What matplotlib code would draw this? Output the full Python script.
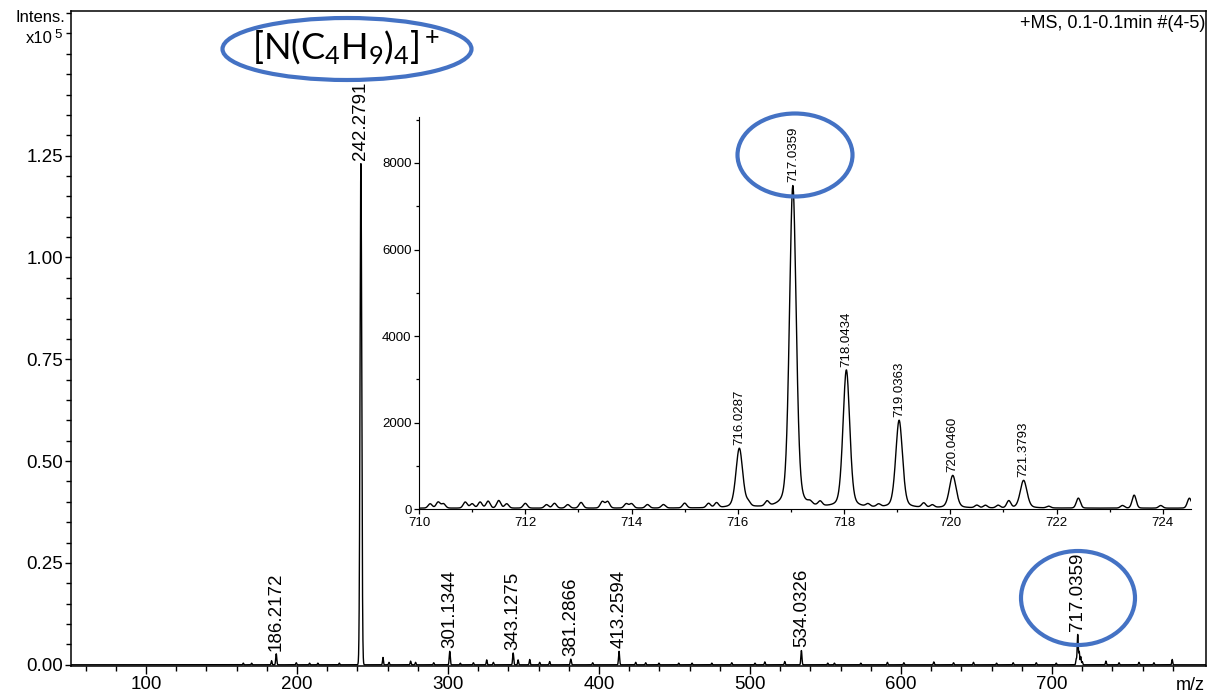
import numpy as np
import matplotlib.pyplot as plt
from matplotlib.patches import Ellipse
from matplotlib.ticker import FixedLocator, MultipleLocator, FormatStrFormatter

plt.rcParams['font.family'] = ['Liberation Sans', 'DejaVu Sans']
plt.rcParams['mathtext.fontset'] = 'custom'
plt.rcParams['mathtext.rm'] = 'Lato'
plt.rcParams['mathtext.it'] = 'Lato:italic'
plt.rcParams['mathtext.bf'] = 'Lato:bold'

# full scan: labelled peaks (m/z, intensity in 1e5 counts)
main_labels = ['186.2172', '242.2791', '301.1344', '343.1275', '381.2866',
               '413.2594', '534.0326', '717.0359']
main_mz = [186.2172, 242.2791, 301.1344, 343.1275, 381.2866, 413.2594, 534.0326, 717.0359]
main_int = [0.027, 1.232, 0.033, 0.029, 0.014, 0.033, 0.035, 0.0744]

# isotope neighbours of the 717 cluster plus small unlabelled signals
minor_mz = [716.03, 718.04, 719.04, 720.05,
            164.4, 169.9, 183.1, 199.5, 208.3, 213.8, 228.0, 256.9, 260.9, 275.2,
            278.5, 290.5, 308.1, 316.8, 325.6, 330.0, 346.4, 354.1, 360.7, 367.3,
            395.8, 424.3, 430.9, 439.7, 452.8, 461.6, 474.7, 487.9, 503.3, 509.8,
            523.0, 551.5, 555.9, 573.4, 591.0, 601.9, 621.7, 634.8, 648.0, 663.3,
            674.3, 689.6, 702.8, 735.7, 744.4, 757.6, 767.5, 779.6]
minor_int = [0.0137, 0.0318, 0.0202, 0.0075,
             0.004, 0.004, 0.010, 0.005, 0.004, 0.004, 0.004, 0.018, 0.006, 0.009,
             0.006, 0.005, 0.004, 0.005, 0.012, 0.006, 0.012, 0.013, 0.006, 0.008,
             0.005, 0.006, 0.005, 0.004, 0.004, 0.004, 0.004, 0.005, 0.004, 0.007,
             0.008, 0.004, 0.004, 0.004, 0.006, 0.005, 0.007, 0.005, 0.006, 0.004,
             0.005, 0.005, 0.004, 0.009, 0.005, 0.006, 0.005, 0.013]

# zoomed isotope pattern (counts)
iso_labels = ['716.0287', '717.0359', '718.0434', '719.0363', '720.0460', '721.3793']
iso_mz = [716.0287, 717.0359, 718.0434, 719.0363, 720.0460, 721.3793]
iso_int = [1370, 7440, 3175, 2020, 750, 640]

# unlabelled peaks and baseline ripples in the zoomed window
ripple_mz = [710.21, 710.36, 710.46, 710.87, 711.0, 711.15, 711.3, 711.5, 711.65,
             712.0, 712.4, 712.55, 712.8, 713.05, 713.45, 713.55, 713.9, 714.0,
             714.3, 714.6, 715.0, 715.45, 715.6, 716.2, 716.55, 717.36, 717.55,
             718.45, 718.65, 719.5, 719.66, 720.5, 720.66, 720.9, 721.1, 721.85,
             722.41, 723.24, 723.46, 723.96, 724.5]
ripple_int = [100, 140, 100, 140, 100, 140, 160, 175, 100,
              110, 80, 110, 80, 130, 150, 150, 100, 100,
              80, 80, 110, 100, 110, 80, 110, 60, 100,
              60, 60, 100, 60, 60, 60, 60, 160, 40,
              230, 60, 300, 60, 230]


def gauss_sum(x, centers, heights, sigma):
    y = np.zeros_like(x)
    for c, h in zip(centers, heights):
        y += h * np.exp(-0.5 * ((x - c) / sigma) ** 2)
    return y


def pvoigt_sum(x, centers, heights, fwhm, eta=0.3):
    y = np.zeros_like(x)
    s = fwhm / 2.3548
    g = fwhm / 2
    for c, h in zip(centers, heights):
        gau = np.exp(-0.5 * ((x - c) / s) ** 2)
        lor = g ** 2 / ((x - c) ** 2 + g ** 2)
        y += h * ((1 - eta) * gau + eta * lor)
    return y


fig = plt.figure(figsize=(12.1, 6.96), dpi=100)
ax = fig.add_axes([0.0587, 0.0431, 0.9380, 0.9411])

x0, x1 = 50.3, 802.0
x = np.linspace(x0, x1, 12000)
y = gauss_sum(x, main_mz, main_int, 0.35) + gauss_sum(x, minor_mz, minor_int, 0.3)
big = gauss_sum(x, [242.2791], [1.0], 0.55)
y = np.maximum(y, big * 1.232)
ax.plot(x, y, color='black', lw=1.0)

for lab, mz, h in zip(main_labels, main_mz, main_int):
    ax.text(mz, h + 0.008, lab, rotation=90, ha='center', va='bottom', fontsize=13.5)

ax.set_xlim(x0, x1)
ax.set_ylim(-0.003, 1.605)
ax.xaxis.set_major_locator(FixedLocator([100, 200, 300, 400, 500, 600, 700]))
ax.xaxis.set_minor_locator(FixedLocator(np.arange(60, 800, 20)))
ax.yaxis.set_major_locator(FixedLocator([0, 0.25, 0.5, 0.75, 1.0, 1.25]))
ax.yaxis.set_minor_locator(MultipleLocator(0.05))
ax.yaxis.set_major_formatter(FormatStrFormatter('%.2f'))
ax.tick_params(axis='y', which='major', direction='out', length=4.5, width=1,
               labelsize=13.5, pad=1)
ax.tick_params(axis='y', which='minor', direction='out', length=3.5, width=1)
ax.tick_params(axis='x', which='major', direction='out', length=5.5, width=1,
               labelsize=13.5, pad=2)
ax.tick_params(axis='x', which='minor', direction='out', length=3.5, width=1)
for sp in ax.spines.values():
    sp.set_linewidth(1.1)

fig.text(65 / 1210, 1 - 18 / 696, 'Intens.', ha='right', va='center', fontsize=12)
fig.text(53 / 1210, 1 - 43 / 696, 'x10', ha='right', va='baseline', fontsize=12)
fig.text(54 / 1210, 1 - 38 / 696, '5', ha='left', va='baseline', fontsize=9.5)
fig.text(1205 / 1210, 1 - 23 / 696, '+MS, 0.1-0.1min #(4-5)', ha='right', va='center',
         fontsize=13)
fig.text(1190 / 1210, 1 - 686 / 696, 'm/z', ha='center', va='center', fontsize=13)

# zoomed isotope pattern
ax2 = fig.add_axes([0.3463, 0.2680, 0.6380, 0.5640])
ax2.patch.set_alpha(0)
xi = np.linspace(710, 724.53, 4000)
yi = 30 + pvoigt_sum(xi, iso_mz, iso_int, 0.15) + pvoigt_sum(xi, ripple_mz, ripple_int, 0.09, 0.1)
ax2.plot(xi, yi, color='black', lw=1.0)
for lab, mz, h in zip(iso_labels, iso_mz, iso_int):
    ax2.text(mz, h + 120, lab, rotation=90, ha='center', va='bottom', fontsize=9.5)

ax2.set_xlim(710, 724.53)
ax2.set_ylim(0, 9060)
ax2.spines['top'].set_visible(False)
ax2.spines['right'].set_visible(False)
ax2.xaxis.set_major_locator(MultipleLocator(2))
ax2.xaxis.set_minor_locator(MultipleLocator(1))
ax2.yaxis.set_major_locator(MultipleLocator(2000))
ax2.yaxis.set_minor_locator(MultipleLocator(1000))
ax2.tick_params(which='major', direction='out', length=3.5, width=0.9, labelsize=9.5, pad=2)
ax2.tick_params(which='minor', direction='out', length=2.5, width=0.9)

# highlight rings
ring = dict(fill=False, edgecolor='#4472C4', lw=3, transform=fig.transFigure, zorder=10)
fig.patches.append(Ellipse((347 / 1210, 1 - 49 / 696), 249 / 1210, 62 / 696, **ring))
fig.patches.append(Ellipse((795 / 1210, 1 - 155 / 696), 115 / 1210, 83 / 696, **ring))
fig.patches.append(Ellipse((1078 / 1210, 1 - 598 / 696), 114 / 1210, 94 / 696, **ring))

fig.text(346 / 1210, 1 - 48 / 696, r'[N(C$_4$H$_9$)$_4$]$^+$', ha='center', va='center',
         fontsize=26, family='Lato')

fig.savefig('out.png', dpi=100)
